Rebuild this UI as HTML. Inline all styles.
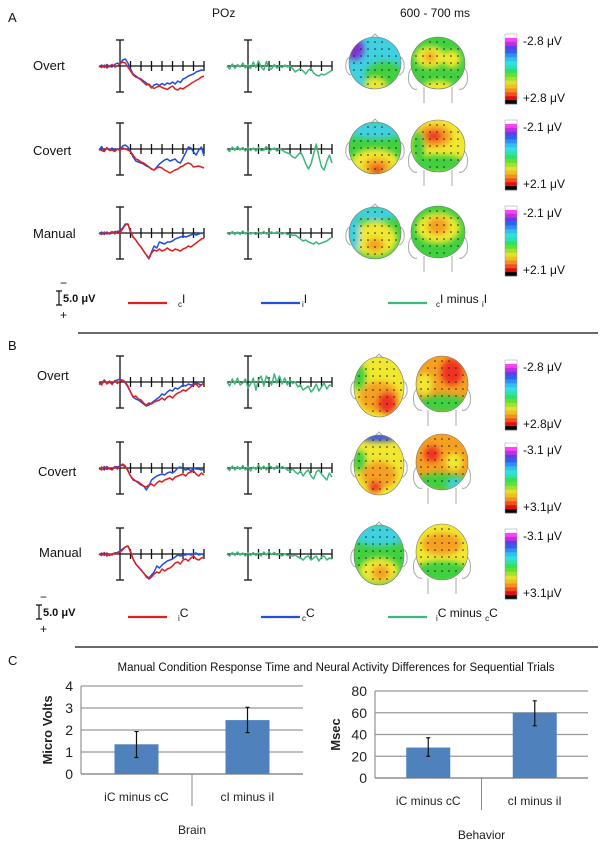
<!DOCTYPE html>
<html><head><meta charset="utf-8"><style>
body{margin:0;background:#fff;}
svg{display:block;font-family:"Liberation Sans",sans-serif;}
</style></head><body>
<svg id="fig" width="601" height="846" viewBox="0 0 601 846" xmlns="http://www.w3.org/2000/svg">
<defs>
<filter id="bl" x="-50%" y="-50%" width="200%" height="200%"><feGaussianBlur stdDeviation="3"/></filter>
</defs>
<g id="static" font-size="13" fill="#111">
<text x="8" y="22">A</text>
<text x="212" y="17" font-size="12">POz</text>
<text x="400" y="17" font-size="12">600 - 700 ms</text>
<text x="33" y="70">Overt</text>
<text x="33" y="155">Covert</text>
<text x="33" y="238">Manual</text>
<line x1="78" y1="333" x2="598" y2="333" stroke="#111" stroke-width="1.2"/>
<text x="8" y="350">B</text>
<text x="37" y="380">Overt</text>
<text x="38" y="476">Covert</text>
<text x="39" y="557">Manual</text>
<line x1="75" y1="647" x2="598" y2="647" stroke="#111" stroke-width="1.2"/>
<text x="8" y="665">C</text>
<text x="336" y="671" font-size="11.5" text-anchor="middle">Manual Condition Response Time and Neural Activity Differences for Sequential Trials</text>
</g>
<g id="dyn"></g>
</svg>
<script>
// ---------- ERP data (µV, positive plotted downward), t = -200..800 ms step 25 ----------
const aOvertRed=[0,0.3,-0.2,0.4,0,-0.3,0.2,0,-0.5,-0.8,-0.6,0.2,1.0,1.8,2.2,2.4,2.8,3.3,3.8,3.6,4.2,4.5,4.2,4.0,4.3,4.5,4.7,4.3,4.0,4.6,4.8,4.4,4.6,4.2,3.9,3.5,3.2,2.9,2.6,2.2,2.0];
const aOvertBlue=[0.2,-0.2,0.3,-0.3,0.1,0.2,-0.3,-0.6,-0.3,-1.2,-1.4,-0.6,0.6,1.6,2.0,2.4,2.6,3.0,3.4,3.8,4.4,3.8,3.6,3.9,3.5,3.8,3.4,3.6,3.2,3.6,3.0,3.3,2.6,2.4,2.0,1.8,1.6,1.2,1.0,0.8,0.9];
const aOvertDiff=[0,0.6,-0.4,0.5,-0.3,0.2,-0.6,0.4,-0.2,0.5,-0.8,0.3,-1,0.2,0.8,-0.9,0.4,0.6,-0.3,0.4,0,0.3,-0.2,0.2,0,0.5,1.2,0.8,0.6,1.0,1.6,0.8,0.5,1.4,1.8,2.0,1.6,1.8,1.5,1.2,0.8];
const aCovertRed=[0,0.3,0.5,-0.2,0.3,0.2,0.5,0,0.3,-0.2,0,0.2,0.5,1.2,2.0,2.2,2.6,2.8,3.2,3.6,4.0,4.2,3.8,3.6,3.8,4.2,4.5,4.8,4.5,4.2,4.0,3.6,3.4,3.0,2.8,3.0,3.6,3.5,3.4,3.6,3.8];
const aCovertBlue=[0.3,-0.5,0.4,-0.3,0.2,-0.2,0.3,0,0.2,-0.6,-0.8,-0.4,0.5,1.6,2.4,2.6,2.8,3.0,3.4,3.6,4.0,4.2,3.6,3.0,2.6,2.2,2.0,2.4,2.2,2.0,2.6,2.8,1.8,0.8,-0.4,-0.2,0.6,1.2,0.2,-0.4,1.4];
const aCovertDiff=[0,0.5,-0.4,0.3,-0.5,0.2,-0.3,0.4,-0.2,0.3,-0.2,0.4,-0.3,0.3,0.2,-0.5,0.4,0.1,-0.2,0.4,0,0.2,0.6,0.8,1.0,1.6,1.8,1.2,0.6,1.6,3.0,4.0,3.0,1.0,-1.0,1.5,3.6,4.2,2.5,1.2,2.8];
const aManualRed=[0,0.3,-0.2,0.2,0,-0.3,0.2,-0.4,0,-0.8,-1.6,-1.8,-0.4,0.8,1.4,2.2,2.8,3.6,4.4,5.2,4.0,3.4,3.6,3.2,3.6,3.4,3.0,3.4,3.6,3.2,3.4,3.6,3.2,3.0,2.6,2.8,2.4,2.0,1.6,1.2,1.0];
const aManualBlue=[0.2,-0.2,0.3,-0.2,0.2,0,-0.3,-0.2,-0.5,-1.0,-1.8,-1.8,-0.2,0.8,1.4,2.2,2.8,3.6,4.4,5.0,3.8,2.6,3.0,1.8,2.0,2.2,1.8,1.8,1.6,1.2,1.0,0.8,0.6,0.8,0.6,0.4,0.2,0.4,0.2,0.0,0.2];
const aManualDiff=[0,0.3,-0.3,0.3,-0.2,0.3,-0.4,0.2,-0.3,0.2,0,0.3,-0.2,0.2,-0.3,0.2,0,-0.2,0.1,-0.2,0,0.2,0,0.3,0.2,0.5,0.4,0.8,1.2,1.6,1.4,1.8,2.0,2.2,1.8,2.2,2.0,1.8,1.6,1.2,0.8];
const bOvertRed=[0,0.6,-0.4,0.4,0,0.5,-0.3,0.3,-0.2,-0.4,0,0.8,2.0,3.0,2.8,3.4,3.6,4.2,4.6,4.2,4.4,4.0,3.8,3.6,3.2,3.6,3.0,2.8,3.2,2.6,2.2,2.0,1.6,1.8,1.4,1.0,0.6,0.4,1.0,0.6,0.2];
const bOvertBlue=[0.5,0.2,-0.4,0.3,-0.2,0.4,-0.2,-0.4,-0.6,-0.2,0.2,1.0,2.0,3.0,3.4,3.6,4.0,4.4,4.8,4.6,4.2,3.8,3.4,3.0,2.4,2.6,2.0,1.6,1.8,1.2,1.4,1.0,0.6,0.8,0.4,0.6,0.4,0.2,0.4,0.6,0.2];
const bOvertDiff=[0,0.8,-0.6,0.4,-0.8,0.6,0.2,-0.6,1.2,0.4,-0.8,1.6,-0.4,-1.2,0.8,-1.2,-0.4,0.6,-1.6,0.2,-1.2,0.4,-0.8,0.6,-0.4,0.3,0,1.0,0.6,1.6,1.2,0.8,2.0,1.4,0.4,1.8,1.0,0.2,1.4,0.6,0.8];
const bCovertRed=[0,0.4,-0.3,0.3,0,0.4,-0.2,0.2,-0.3,-0.8,-0.4,0.6,1.6,2.2,2.6,2.8,3.2,3.6,3.8,3.4,3.2,3.6,3.0,2.6,2.8,2.4,2.2,2.0,2.4,1.8,1.6,1.4,1.2,1.6,1.0,0.8,0.6,1.2,1.6,1.0,1.4];
const bCovertBlue=[0.3,-0.2,0.4,-0.3,0.2,0.3,-0.3,-0.2,-0.4,-0.6,-0.2,0.4,1.6,2.4,2.6,3.0,3.4,3.6,4.4,3.6,2.4,2.0,1.6,1.4,1.2,1.4,1.0,0.8,1.0,0.6,0,-0.2,0.2,0.4,0.2,0.6,0,0.2,0.2,0.4,0.2];
const bCovertDiff=[0,0.5,-0.4,0.4,-0.3,0.3,-0.5,0.4,-0.2,0.6,-0.2,0.3,-0.6,0.3,-0.4,0.4,-0.5,-0.2,0.3,-0.4,0.2,-0.3,0,0.4,0.6,0.2,0.8,1.2,0.6,1.6,0.8,0.4,1.6,2.2,0.8,0.4,1.2,1.8,2.4,1.0,1.8];
const bManualRed=[0,0.3,-0.3,0.4,0,0.2,-0.2,0,-0.4,-0.8,-1.4,-1.6,-0.4,1.0,2.0,2.6,3.2,3.8,4.6,5.0,4.6,4.0,3.6,3.8,3.0,3.4,3.0,2.8,2.4,1.8,1.6,2.0,1.2,1.0,1.4,0.8,0.4,1.0,1.2,0.8,0.6];
const bManualBlue=[0.2,-0.2,0.3,-0.2,0.3,0,-0.2,-0.3,-0.6,-1.0,-1.4,-1.6,-0.6,1.0,2.0,2.6,3.2,3.8,4.4,4.8,4.2,3.6,2.4,2.8,2.2,1.8,1.4,1.2,1.0,0.6,0.2,0.4,0.2,0.2,0,0.2,0,-0.2,0.2,0,0.2];
const bManualDiff=[0,0.4,-0.3,0.3,-0.4,0.2,-0.2,0.4,-0.2,0.3,-0.3,0.3,-0.2,0.4,-0.4,0.2,-0.4,0.1,-0.3,0.2,0,0.4,0,0.3,0.2,0.4,0.2,0.6,0.8,1.2,0.6,0.4,1.2,0.8,0.4,1.4,0.6,0.4,1.2,0.8,1.0];
const colorbarMax=["2.8","2.1","2.1","2.8","3.1","3.1"];
// ---------- Bar chart data ----------
const barCategories=["iC minus cC","cI minus iI"];
const brainValues=[1.35,2.45];
const brainErrLow=[0.75,1.88];
const brainErrHigh=[1.93,3.03];
const brainTicks=[0,1,2,3,4];
const behaviorValues=[28,60];
const behaviorErrLow=[20,48];
const behaviorErrHigh=[37,71];
const behaviorTicks=[0,20,40,60,80];

const NS="http://www.w3.org/2000/svg";
const dyn=document.getElementById('dyn');
function mk(tag,attrs,parent){const e=document.createElementNS(NS,tag);for(const k in attrs)e.setAttribute(k,attrs[k]);(parent||dyn).appendChild(e);return e;}

const T0=-200,TSTEP=25;
function tx(x0,i){return x0+(T0+i*TSTEP+200)*0.105;}
function vy(y0,v){return y0+v*5;}

function erpAxes(x0,y0,name){
  const g=mk('g',{stroke:'#111','stroke-width':1.3,fill:'none'});
  
  
  const zx=tx(x0,8);
  mk('line',{x1:x0,y1:y0,x2:x0+105,y2:y0},g);
  mk('line',{x1:zx,y1:y0-26,x2:zx,y2:y0+26},g);
  mk('line',{x1:zx-4,y1:y0-26,x2:zx+4,y2:y0-26},g);
  mk('line',{x1:zx-4,y1:y0+26,x2:zx+4,y2:y0+26},g);
  for(let k=12;k<=40;k+=4){const x=tx(x0,k);mk('line',{x1:x,y1:y0-5,x2:x,y2:y0+5},g);}
}
function trace(x0,y0,arr,col,name){
  const d=arr.map((v,i)=>(i?'L':'M')+tx(x0,i).toFixed(1)+' '+vy(y0,v).toFixed(1)).join(' ');
  const p=mk('path',{d:d,stroke:col,'stroke-width':1.5,fill:'none','stroke-linejoin':'round'});
  
  
}
const RED='#e02020',BLUE='#2050e0',GRN='#3cb878';
const rows=[
 ['a-overt',66,aOvertRed,aOvertBlue,aOvertDiff],
 ['a-covert',149,aCovertRed,aCovertBlue,aCovertDiff],
 ['a-manual',233,aManualRed,aManualBlue,aManualDiff],
 ['b-overt',382,bOvertRed,bOvertBlue,bOvertDiff],
 ['b-covert',468,bCovertRed,bCovertBlue,bCovertDiff],
 ['b-manual',554,bManualRed,bManualBlue,bManualDiff]
];
rows.forEach(r=>{
  erpAxes(99,r[1],'erp-axes-'+r[0]);
  trace(99,r[1],r[3],BLUE,'erp-blue-'+r[0]);
  trace(99,r[1],r[2],RED,'erp-red-'+r[0]);
  erpAxes(227,r[1],'diff-axes-'+r[0]);
  trace(227,r[1],r[4],GRN,'erp-diff-'+r[0]);
});

// ---------- Topographic maps ----------
let clipId=0;
function head(cx,cy,rx,ry,base,blobs,back,name){
  const g=mk('g',{});
  
  
  const id='c'+(clipId++);
  const cp=mk('clipPath',{id:id},g);
  mk('ellipse',{cx:cx,cy:cy,rx:rx,ry:ry},cp);
  if(back){
    mk('path',{d:`M${cx-rx+2} ${cy+4} q-6 4 -4 16 q4 8 8 6 M${cx+rx-2} ${cy+4} q6 4 4 16 q-4 8 -8 6 M${cx-14} ${cy+ry-2} L${cx-14} ${cy+ry+14} M${cx+14} ${cy+ry-2} L${cx+14} ${cy+ry+14}`,stroke:'#aaa','stroke-width':1,fill:'none'},g);
  } else {
    mk('path',{d:`M${cx-rx+1} ${cy-6} q-5 2 -4 12 q2 6 5 6 M${cx+rx-1} ${cy-6} q5 2 4 12 q-2 6 -5 6 M${cx-4} ${cy-ry+1} l4 -4 l4 4`,stroke:'#aaa','stroke-width':1,fill:'none'},g);
  }
  const inner=mk('g',{'clip-path':`url(#${id})`},g);
  mk('rect',{x:cx-rx,y:cy-ry,width:2*rx,height:2*ry,fill:base},inner);
  const bg=mk('g',{filter:'url(#bl)'},inner);
  blobs.forEach(b=>mk('ellipse',{cx:cx+b[0],cy:cy+b[1],rx:b[2]*1.1,ry:b[3]*1.1,fill:b[4]},bg));
  for(let yy=-ry+5;yy<ry;yy+=7)for(let xx=-rx+5;xx<rx;xx+=7){
    if((xx*xx)/(rx*rx)+(yy*yy)/(ry*ry)<0.85) mk('circle',{cx:cx+xx,cy:cy+yy,r:0.8,fill:'#222'},inner);
  }
  mk('ellipse',{cx:cx,cy:cy,rx:rx,ry:ry,fill:'none',stroke:'#777','stroke-width':0.6},g);
}
const Y='#f0e830',O='#f5a020',R='#f03020',G='#40d040',C='#40d0e0',B='#3050e0',P='#8030d0';
head(375,63,26,26,C,[[-20,-14,8,10,P],[10,12,18,12,G],[0,22,10,6,Y]],false,'topo-a-overt-front');
head(438,63,27,26,G,[[-8,-6,14,10,Y],[-8,-6,5,5,O],[0,24,14,6,Y],[14,-4,8,8,Y]],true,'topo-a-overt-back');
head(375,148,26,26,G,[[0,-18,30,8,C],[0,14,22,12,Y],[2,18,12,7,O],[2,22,6,4,R]],false,'topo-a-covert-front');
head(438,146,27,26,Y,[[-4,-10,16,10,O],[-4,-10,8,5,R],[0,18,26,8,G],[-20,0,6,14,G]],true,'topo-a-covert-back');
head(375,233,26,26,G,[[0,6,20,16,Y],[0,-20,26,6,C],[-22,0,6,20,C],[0,12,8,6,O]],false,'topo-a-manual-front');
head(438,232,27,26,G,[[0,-4,20,14,Y],[0,-6,10,8,O]],true,'topo-a-manual-back');
head(379,387,25,30,Y,[[0,10,18,14,O],[8,16,9,10,R],[-20,-10,6,12,G]],false,'topo-b-overt-front');
head(442,384,26,28,O,[[10,-12,10,12,R],[0,20,26,8,G],[-18,0,8,10,Y]],true,'topo-b-overt-back');
head(379,465,25,30,Y,[[0,-28,20,4,B],[0,10,16,12,O],[-4,22,6,5,R],[-20,-4,6,10,G]],false,'topo-b-covert-front');
head(442,462,26,28,O,[[-10,-8,7,7,R],[0,20,26,8,G],[14,22,8,5,C],[12,0,8,8,Y]],true,'topo-b-covert-back');
head(379,555,25,30,G,[[0,-20,26,10,C],[0,16,18,12,Y],[2,18,8,7,O]],false,'topo-b-manual-front');
head(442,552,26,28,Y,[[0,-8,18,10,O],[0,20,26,10,G]],true,'topo-b-manual-back');

// colorbars
const bands=['#ffffff','#ff40ff','#c030e0','#6040e0','#3060f0','#3090f0','#30c0f0','#30e0e0','#30e0b0','#30e060','#60e030','#a0e030','#e0e030','#f0c020','#f09020','#f05020','#e01010','#000000'];
const cbYs=[34,120,206,360,443,529];
cbYs.forEach((y0,k)=>{
  const g=mk('g',{});
  
  
  const h=70/bands.length;
  bands.forEach((c,i)=>mk('rect',{x:505,y:y0+i*h,width:12,height:h+0.3,fill:c},g));
  mk('rect',{x:505,y:y0,width:12,height:70,fill:'none',stroke:'#999','stroke-width':0.5},g);
  const t1=mk('text',{x:523,y:y0+11,'font-size':12,fill:'#111'},g);
  t1.textContent='-'+colorbarMax[k]+'  \u03BCV';
  const t2=mk('text',{x:523,y:y0+68,'font-size':12,fill:'#111'},g);
  t2.textContent='+'+colorbarMax[k]+(k>=3?'\u03BCV':'  \u03BCV');
});

// legends
function legend(y,sx,labels){
  const g=mk('g',{'font-size':12,fill:'#111'});
  
  
  mk('path',{d:`M${sx} ${y-8} v14 M${sx-3} ${y-8} h6 M${sx-3} ${y+6} h6`,stroke:'#111','stroke-width':1.2,fill:'none'},g);
  const m=mk('text',{x:sx+1,y:y-12},g);m.textContent='\u2212';
  const pl=mk('text',{x:sx+1,y:y+20},g);pl.textContent='+';
  const s=mk('text',{x:sx+4,y:y+3,'font-weight':'bold','font-size':11},g);s.textContent='5.0  \u03BCV';
  const cols=[[128,RED,178],[261,BLUE,302],[388,GRN,436]];
  cols.forEach((c,i)=>{
    const ln=mk('line',{x1:c[0],y1:y+4,x2:c[0]+39,y2:y+4,stroke:c[1],'stroke-width':2.2},g);
    
    
    const t=mk('text',{x:c[2],y:y+4},g);
    t.innerHTML=labels[i];
  });
}
legend(299,59,['<tspan font-size="8" dy="4">c</tspan><tspan dy="-4">I</tspan>','<tspan font-size="8" dy="4">i</tspan><tspan dy="-4">I</tspan>','<tspan font-size="8" dy="4">c</tspan><tspan dy="-4">I minus </tspan><tspan font-size="8" dy="4">i</tspan><tspan dy="-4">I</tspan>']);
legend(613,39,['<tspan font-size="8" dy="4">i</tspan><tspan dy="-4">C</tspan>','<tspan font-size="8" dy="4">c</tspan><tspan dy="-4">C</tspan>','<tspan font-size="8" dy="4">i</tspan><tspan dy="-4">C minus </tspan><tspan font-size="8" dy="4">c</tspan><tspan dy="-4">C</tspan>']);

// ---------- Bar charts ----------
function barChart(o){
  const g=mk('g',{'font-size':13,fill:'#222'});
  
  
  const yS=v=>o.y0-(v/o.max)*(o.y0-o.yTop);
  const cw=(o.x1-o.x0)/o.cats.length;
  o.ticks.forEach(t=>{
    const y=yS(t);
    mk('line',{x1:o.x0,y1:y,x2:o.x1,y2:y,stroke:'#999','stroke-width':1.3},g);
    const tl=mk('text',{x:o.x0-8,y:y+5,'text-anchor':'end','font-size':14},g);
    tl.textContent=t;
  });
  mk('line',{x1:o.x0,y1:o.yTop,x2:o.x0,y2:o.y0,stroke:'#999','stroke-width':1.3},g);
  mk('line',{x1:o.x0,y1:o.y0,x2:o.x1,y2:o.y0,stroke:'#888','stroke-width':1.3},g);
  for(let i=1;i<o.cats.length;i++){const x=o.x0+cw*i;mk('line',{x1:x,y1:o.y0,x2:x,y2:o.y0+32,stroke:'#888','stroke-width':1},g);}
  o.cats.forEach((c,i)=>{
    const cx=o.x0+cw*(i+0.5);
    const bar=mk('rect',{x:cx-22,y:yS(o.vals[i]),width:44,height:o.y0-yS(o.vals[i]),fill:'#4f81bd'},g);
    
    
    mk('path',{d:`M${cx} ${yS(o.lo[i])} V${yS(o.hi[i])} M${cx-2} ${yS(o.lo[i])} h4 M${cx-2} ${yS(o.hi[i])} h4`,stroke:'#111','stroke-width':1.2,fill:'none'},g);
    const t=mk('text',{x:cx,y:o.y0+27,'text-anchor':'middle','font-size':12},g);t.textContent=c;
  });
  const xl=mk('text',{x:(o.x0+o.x1)/2,y:o.xlY,'text-anchor':'middle','font-size':12},g);xl.textContent=o.xlabel;
  const yl=mk('text',{x:0,y:0,'text-anchor':'middle','font-size':13,'font-weight':'bold',transform:`translate(${o.ylX},${(o.y0+o.yTop)/2}) rotate(-90)`},g);yl.textContent=o.ylabel;
}
barChart({name:'brain-chart',x0:81,x1:303,y0:774,yTop:686,max:4,ticks:brainTicks,cats:barCategories,vals:brainValues,lo:brainErrLow,hi:brainErrHigh,xlabel:'Brain',xlY:834,ylabel:'Micro Volts',ylX:52});
barChart({name:'behavior-chart',x0:375,x1:588,y0:778,yTop:691,max:80,ticks:behaviorTicks,cats:barCategories,vals:behaviorValues,lo:behaviorErrLow,hi:behaviorErrHigh,xlabel:'Behavior',xlY:839,ylabel:'Msec',ylX:340});
</script>
</body></html>
